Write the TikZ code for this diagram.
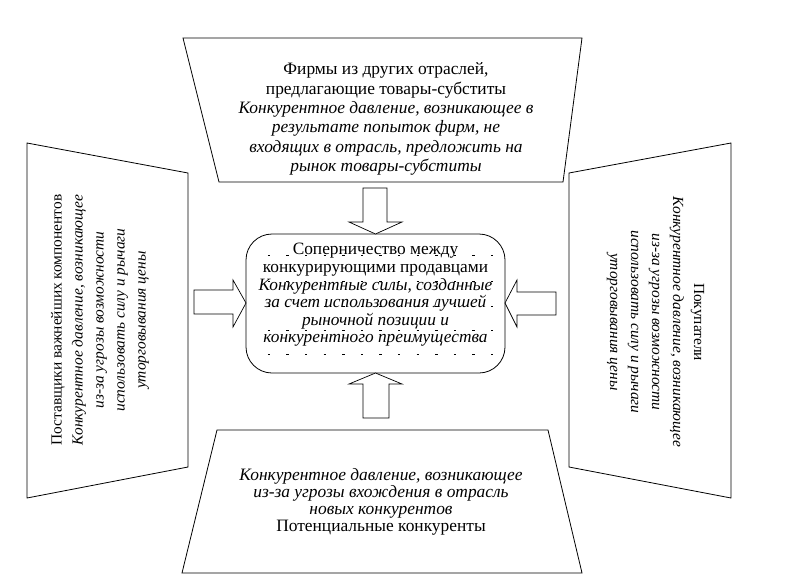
\documentclass[tikz,border=0pt]{standalone}
\usepackage{fontspec}
\setmainfont{Liberation Serif}
\begin{document}
\begin{tikzpicture}[x=1pt,y=-1pt,
  shapeline/.style={draw=black,line width=0.8pt,line join=miter},
  blockarrow/.style={draw=black,line width=0.7pt,fill=white},
  txt/.style={align=center,inner sep=0pt,text=black},
  topfont/.style={font=\fontsize{17.4}{19.3}\selectfont},
  botfont/.style={font=\fontsize{17.4}{17}\selectfont},
  sidefont/.style={font=\fontsize{15.4}{21}\selectfont},
  cenfont/.style={font=\fontsize{17.3}{17.6}\selectfont},
  dashmark/.style={draw=black,line width=0.5pt}]
\useasboundingbox (0,0) rectangle (797,584);
\fill[white] (0,0) rectangle (797,584);
% trapezoids
\draw[shapeline] (183,38) -- (582,38) -- (563,182) -- (219,182) -- cycle;
\draw[shapeline] (27,143) -- (188,173) -- (188,467) -- (27,498) -- cycle;
\draw[shapeline] (569,173) -- (731,143) -- (731,498) -- (569,467) -- cycle;
\draw[shapeline] (217,430) -- (548,430) -- (582,573) -- (182,573) -- cycle;
% center box
\draw[shapeline,rounded corners=26pt] (246,234) rectangle (505,373);
% dashes
\foreach \r in {255,281,306,330,354}
  \foreach \k in {0,...,12}
    \draw[dashmark] ({269+18.6*\k-1.2},\r) -- ({269+18.6*\k+1.2},\r);
% arrows
\draw[blockarrow] (363,188) -- (387,188) -- (387,222) -- (402,222) -- (375.5,234) -- (349,222) -- (363,222) -- cycle;
\draw[blockarrow] (363,418) -- (389,418) -- (389,384) -- (402,384) -- (375.5,373) -- (349,384) -- (363,384) -- cycle;
\draw[blockarrow] (194,290) -- (233,290) -- (233,280) -- (246,303) -- (233,327) -- (233,314) -- (194,314) -- cycle;
\draw[blockarrow] (556,292) -- (517,292) -- (517,280) -- (505,303) -- (517,327) -- (517,315) -- (556,315) -- cycle;
% texts
\node[txt,topfont] (subst) at (386,119) {Фирмы из других отраслей,\\предлагающие товары-субститы\\
\textit{Конкурентное давление, возникающее в}\\\textit{результате попыток фирм, не}\\
\textit{входящих в отрасль, предложить на}\\\textit{рынок товары-субститы}};
\node[txt,cenfont] (rival) at (375.5,295) {Соперничество между\\конкурирующими продавцами\\
\textit{Конкурентные силы, созданные}\\\textit{за счет использования лучшей}\\
\textit{рыночной позиции и}\\\textit{конкурентного преимущества}};
\node[txt,sidefont,rotate=90] (suppl) at (100,320) {Поставщики важнейших компонентов\\
\textit{Конкурентное давление, возникающее}\\\textit{из-за угрозы возможности}\\
\textit{использовать силу и рычаги}\\\textit{уторговывания цены}};
\node[txt,sidefont,rotate=-90] (buyer) at (655.5,322) {Покупатели\\
\textit{Конкурентное давление, возникающее}\\\textit{из-за угрозы возможности}\\
\textit{использовать силу и рычаги}\\\textit{уторговывания цены}};
\node[txt,botfont] (entr) at (381,502) {\textit{Конкурентное давление, возникающее}\\
\textit{из-за угрозы вхождения в отрасль}\\\textit{новых конкурентов}\\Потенциальные конкуренты};
\end{tikzpicture}
\end{document}
